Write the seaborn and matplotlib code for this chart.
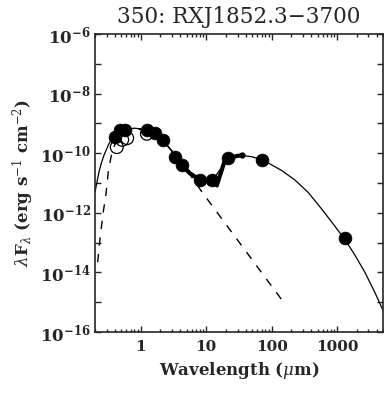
import numpy as np
import pandas as pd
import matplotlib
matplotlib.use("Agg")
import matplotlib.pyplot as plt
import matplotlib.ticker as mticker
import seaborn as sns

# ---- data ----
title = "350: RXJ1852.3\u22123700"

# total model (solid thin line)
lam_model = [0.2, 0.212, 0.23, 0.249, 0.274, 0.327, 0.39, 0.5, 0.6, 0.8, 1.0, 1.3, 1.7,
             2.2, 3.4, 4.5, 6.0, 8.0, 10.0, 13.0, 17.0, 22.0, 32.0, 50.0, 70.0, 88.5,
             141.5, 226.0, 361.0, 577.0, 922.0, 1312.0, 1862.0, 2649.0, 3765.0, 5045.0]
flux_model = [4.9e-12, 9.5e-12, 2.35e-11, 4.5e-11, 8.5e-11, 2.1e-10, 4.0e-10, 5.6e-10,
              6.3e-10, 6.9e-10, 6.6e-10, 5.6e-10, 4.5e-10, 2.75e-10, 7.9e-11, 4.0e-11,
              2.0e-11, 1.3e-11, 1.1e-11, 1.4e-11, 3.2e-11, 6.3e-11, 8.5e-11, 7.6e-11,
              6.0e-11, 4.7e-11, 2.63e-11, 1.26e-11, 4.8e-12, 1.35e-12, 3.55e-13,
              1.26e-13, 3.8e-14, 1.0e-14, 2.1e-15, 5.1e-16]

# photosphere (dashed line)
lam_phot = [0.22, 0.235, 0.25, 0.27, 0.29, 0.32, 0.36, 0.42, 0.5, 0.7, 1.0, 1.5, 2.2,
            3.4, 5.0, 8.6, 160.0]
flux_phot = [2.2e-14, 1.0e-13, 3.2e-13, 1.26e-12, 3.2e-12, 2.5e-11, 1.0e-10, 2.5e-10,
             4.5e-10, 6.3e-10, 6.3e-10, 4.5e-10, 2.5e-10, 8.9e-11, 2.8e-11, 5.0e-12,
             8.5e-16]

# spectrum (thick line)
lam_spec = [4.25, 5.5, 8.0, 10.0, 12.2, 14.5, 19.3, 25.0, 30.0, 34.7]
flux_spec = [4.0e-11, 2.2e-11, 1.25e-11, 1.2e-11, 1.25e-11, 8.3e-12, 5.9e-11,
             7.4e-11, 8.1e-11, 8.5e-11]

# photometry (filled circles)
lam_obs = [0.40, 0.48, 0.57, 1.24, 1.65, 2.18, 3.33, 4.25, 8.0, 12.2, 21.4, 70.8, 1310.0]
flux_obs = [3.5e-10, 5.9e-10, 5.9e-10, 5.9e-10, 4.7e-10, 2.8e-10, 7.4e-11, 4.0e-11,
            1.25e-11, 1.25e-11, 6.8e-11, 5.8e-11, 1.4e-13]

# observed (open circles)
lam_open = [0.43, 0.52, 0.62, 1.24]
flux_open = [1.6e-10, 2.8e-10, 3.2e-10, 4.5e-10]

xticks = [1, 10, 100, 1000]
xticklabels = ["1", "10", "100", "1000"]
yticks_major = [1e-16, 1e-14, 1e-12, 1e-10, 1e-8, 1e-6]

# ---- plotting ----
sns.set_style("ticks")
plt.rcParams["font.family"] = ["DejaVu Serif"]
plt.rcParams["mathtext.fontset"] = "dejavuserif"

fig = plt.figure(figsize=(3.84, 3.94), dpi=100)
ax = fig.add_axes([95 / 384, 62 / 394, 288 / 384, 298 / 394])

df_model = pd.DataFrame({"lam": lam_model, "flux": flux_model})
df_phot = pd.DataFrame({"lam": lam_phot, "flux": flux_phot})
df_spec = pd.DataFrame({"lam": lam_spec, "flux": flux_spec})
df_obs = pd.DataFrame({"lam": lam_obs, "flux": flux_obs})
df_open = pd.DataFrame({"lam": lam_open, "flux": flux_open})

sns.lineplot(data=df_model, x="lam", y="flux", ax=ax, color="black", lw=0.9,
             estimator=None, sort=False)
sns.lineplot(data=df_phot, x="lam", y="flux", ax=ax, color="black", lw=1.0,
             estimator=None, sort=False, dashes=False)
ax.lines[-1].set_linestyle((0, (6, 6)))
sns.lineplot(data=df_spec, x="lam", y="flux", ax=ax, color="black", lw=3.0,
             estimator=None, sort=False)
sns.scatterplot(data=df_obs, x="lam", y="flux", ax=ax, color="black", s=85,
                edgecolor="black", linewidth=0.5, zorder=4)
sns.scatterplot(data=df_open, x="lam", y="flux", ax=ax, facecolor="none",
                edgecolor="black", s=85, linewidth=0.9, zorder=5)
ax.plot([lam_spec[-1]], [flux_spec[-1]], "o", color="black", ms=3.5, zorder=5)

ax.set_xscale("log")
ax.set_yscale("log")
ax.set_xlim(0.2, 5000)
ax.set_ylim(1e-16, 1e-6)

ax.set_xticks(xticks)
ax.set_xticklabels(xticklabels, fontsize=11, fontweight="bold")
ax.xaxis.set_minor_locator(mticker.LogLocator(base=10, subs=np.arange(2, 10), numticks=20))
ax.xaxis.set_minor_formatter(mticker.NullFormatter())

ax.set_yticks(yticks_major)
ax.set_yticklabels([f"$\\mathbf{{10^{{{int(np.log10(v))}}}}}$" for v in yticks_major],
                   fontsize=12)
ax.yaxis.set_minor_locator(mticker.FixedLocator([1e-15, 1e-13, 1e-11, 1e-9, 1e-7]))
ax.yaxis.set_minor_formatter(mticker.NullFormatter())

ax.tick_params(which="both", direction="in", top=True, right=True, width=1.0)
ax.tick_params(axis="y", which="both", length=4)
ax.tick_params(axis="x", which="major", length=4)
ax.tick_params(axis="x", which="minor", length=2)
ax.tick_params(axis="x", which="major", pad=6)
ax.tick_params(axis="y", which="major", pad=3)
for sp in ax.spines.values():
    sp.set_linewidth(1.2)
    sp.set_visible(True)

ax.set_xlabel("Wavelength ($\\mu$m)", fontsize=12, fontweight="bold", labelpad=4)
ax.set_ylabel("$\\lambda$F$_\\lambda$ (erg s$^{-1}$ cm$^{-2}$)", fontsize=12,
              fontweight="bold", labelpad=3)
ax.set_title(title, fontsize=15.5, pad=8)

fig.savefig("out.png", dpi=100)
